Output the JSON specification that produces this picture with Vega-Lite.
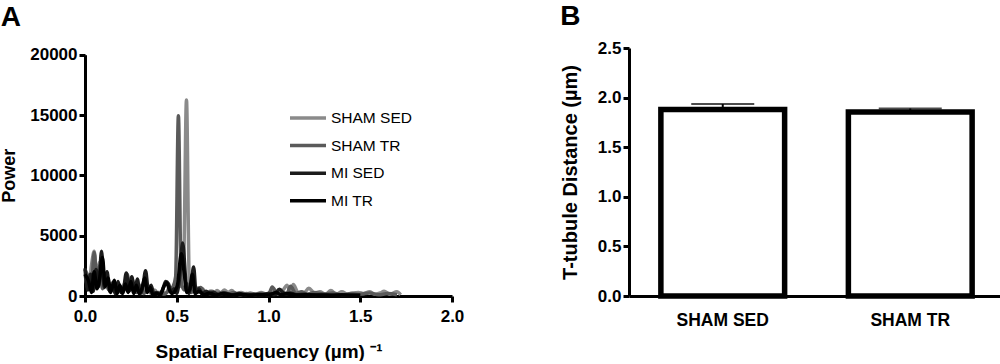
{
  "$schema": "https://vega.github.io/schema/vega-lite/v6.json",
  "background": "white",
  "padding": {"left": 0, "top": 3, "right": 0, "bottom": 0},
  "spacing": 96,
  "config": {
    "view": {"stroke": null},
    "font": "Liberation Sans",
    "axis": {"domainColor": "black", "domainWidth": 3, "tickColor": "black", "tickWidth": 3, "tickSize": 6, "labelFont": "Liberation Sans", "labelFontWeight": "bold", "labelFontSize": 17, "labelColor": "black", "titleFont": "Liberation Sans", "titleFontWeight": "bold", "titleFontSize": 19, "titleColor": "black", "grid": false, "labelPadding": 2, "labelFlush": false},
    "title": {"fontSize": 28, "fontWeight": "bold", "font": "Liberation Sans", "anchor": "start", "frame": "bounds", "color": "black"}
  },
  "datasets": {
    "spec": [
      {"s":"SHAM SED","f":0,"p":1800},{"s":"SHAM SED","f":0.02,"p":600},{"s":"SHAM SED","f":0.035,"p":2500},{"s":"SHAM SED","f":0.05,"p":3700},{"s":"SHAM SED","f":0.065,"p":1500},{"s":"SHAM SED","f":0.08,"p":2800},{"s":"SHAM SED","f":0.095,"p":900},{"s":"SHAM SED","f":0.11,"p":1500},{"s":"SHAM SED","f":0.125,"p":600},{"s":"SHAM SED","f":0.14,"p":1000},{"s":"SHAM SED","f":0.16,"p":400},{"s":"SHAM SED","f":0.18,"p":900},{"s":"SHAM SED","f":0.2,"p":300},{"s":"SHAM SED","f":0.22,"p":1200},{"s":"SHAM SED","f":0.24,"p":500},{"s":"SHAM SED","f":0.26,"p":1300},{"s":"SHAM SED","f":0.28,"p":400},{"s":"SHAM SED","f":0.3,"p":900},{"s":"SHAM SED","f":0.32,"p":300},{"s":"SHAM SED","f":0.34,"p":700},{"s":"SHAM SED","f":0.36,"p":200},{"s":"SHAM SED","f":0.38,"p":500},{"s":"SHAM SED","f":0.4,"p":150},{"s":"SHAM SED","f":0.42,"p":400},{"s":"SHAM SED","f":0.44,"p":200},{"s":"SHAM SED","f":0.46,"p":700},{"s":"SHAM SED","f":0.48,"p":500},{"s":"SHAM SED","f":0.5,"p":1200},{"s":"SHAM SED","f":0.52,"p":800},{"s":"SHAM SED","f":0.538,"p":3000},{"s":"SHAM SED","f":0.553,"p":16250},{"s":"SHAM SED","f":0.568,"p":1500},{"s":"SHAM SED","f":0.585,"p":400},{"s":"SHAM SED","f":0.6,"p":800},{"s":"SHAM SED","f":0.62,"p":300},{"s":"SHAM SED","f":0.64,"p":600},{"s":"SHAM SED","f":0.66,"p":200},{"s":"SHAM SED","f":0.68,"p":400},{"s":"SHAM SED","f":0.7,"p":200},{"s":"SHAM SED","f":0.72,"p":450},{"s":"SHAM SED","f":0.74,"p":250},{"s":"SHAM SED","f":0.76,"p":500},{"s":"SHAM SED","f":0.78,"p":300},{"s":"SHAM SED","f":0.8,"p":450},{"s":"SHAM SED","f":0.82,"p":200},{"s":"SHAM SED","f":0.85,"p":300},{"s":"SHAM SED","f":0.88,"p":150},{"s":"SHAM SED","f":0.9,"p":250},{"s":"SHAM SED","f":0.93,"p":150},{"s":"SHAM SED","f":0.96,"p":300},{"s":"SHAM SED","f":0.99,"p":150},{"s":"SHAM SED","f":1.02,"p":400},{"s":"SHAM SED","f":1.05,"p":200},{"s":"SHAM SED","f":1.08,"p":500},{"s":"SHAM SED","f":1.1,"p":900},{"s":"SHAM SED","f":1.12,"p":400},{"s":"SHAM SED","f":1.135,"p":950},{"s":"SHAM SED","f":1.16,"p":300},{"s":"SHAM SED","f":1.19,"p":200},{"s":"SHAM SED","f":1.22,"p":650},{"s":"SHAM SED","f":1.25,"p":250},{"s":"SHAM SED","f":1.28,"p":350},{"s":"SHAM SED","f":1.31,"p":150},{"s":"SHAM SED","f":1.34,"p":450},{"s":"SHAM SED","f":1.37,"p":150},{"s":"SHAM SED","f":1.4,"p":350},{"s":"SHAM SED","f":1.43,"p":150},{"s":"SHAM SED","f":1.46,"p":250},{"s":"SHAM SED","f":1.49,"p":300},{"s":"SHAM SED","f":1.52,"p":200},{"s":"SHAM SED","f":1.55,"p":350},{"s":"SHAM SED","f":1.58,"p":150},{"s":"SHAM SED","f":1.61,"p":250},{"s":"SHAM SED","f":1.63,"p":400},{"s":"SHAM SED","f":1.66,"p":150},{"s":"SHAM SED","f":1.7,"p":350},{"s":"SHAM SED","f":1.72,"p":100},
      {"s":"SHAM TR","f":0,"p":2200},{"s":"SHAM TR","f":0.02,"p":1500},{"s":"SHAM TR","f":0.035,"p":800},{"s":"SHAM TR","f":0.05,"p":3600},{"s":"SHAM TR","f":0.065,"p":1200},{"s":"SHAM TR","f":0.08,"p":2500},{"s":"SHAM TR","f":0.095,"p":600},{"s":"SHAM TR","f":0.11,"p":1800},{"s":"SHAM TR","f":0.13,"p":500},{"s":"SHAM TR","f":0.15,"p":1100},{"s":"SHAM TR","f":0.17,"p":300},{"s":"SHAM TR","f":0.19,"p":800},{"s":"SHAM TR","f":0.21,"p":400},{"s":"SHAM TR","f":0.23,"p":1800},{"s":"SHAM TR","f":0.245,"p":500},{"s":"SHAM TR","f":0.26,"p":1100},{"s":"SHAM TR","f":0.28,"p":300},{"s":"SHAM TR","f":0.3,"p":800},{"s":"SHAM TR","f":0.32,"p":200},{"s":"SHAM TR","f":0.34,"p":500},{"s":"SHAM TR","f":0.37,"p":200},{"s":"SHAM TR","f":0.4,"p":300},{"s":"SHAM TR","f":0.43,"p":150},{"s":"SHAM TR","f":0.46,"p":500},{"s":"SHAM TR","f":0.48,"p":800},{"s":"SHAM TR","f":0.494,"p":1600},{"s":"SHAM TR","f":0.509,"p":14950},{"s":"SHAM TR","f":0.524,"p":1200},{"s":"SHAM TR","f":0.54,"p":500},{"s":"SHAM TR","f":0.56,"p":1000},{"s":"SHAM TR","f":0.58,"p":300},{"s":"SHAM TR","f":0.6,"p":500},{"s":"SHAM TR","f":0.63,"p":700},{"s":"SHAM TR","f":0.66,"p":200},{"s":"SHAM TR","f":0.69,"p":400},{"s":"SHAM TR","f":0.72,"p":200},{"s":"SHAM TR","f":0.75,"p":300},{"s":"SHAM TR","f":0.78,"p":150},{"s":"SHAM TR","f":0.81,"p":300},{"s":"SHAM TR","f":0.84,"p":100},{"s":"SHAM TR","f":0.88,"p":200},{"s":"SHAM TR","f":0.92,"p":100},{"s":"SHAM TR","f":0.96,"p":200},{"s":"SHAM TR","f":1,"p":100},{"s":"SHAM TR","f":1.02,"p":750},{"s":"SHAM TR","f":1.05,"p":150},{"s":"SHAM TR","f":1.08,"p":300},{"s":"SHAM TR","f":1.1,"p":200},{"s":"SHAM TR","f":1.12,"p":800},{"s":"SHAM TR","f":1.15,"p":200},{"s":"SHAM TR","f":1.18,"p":350},{"s":"SHAM TR","f":1.21,"p":150},{"s":"SHAM TR","f":1.25,"p":300},{"s":"SHAM TR","f":1.3,"p":150},{"s":"SHAM TR","f":1.35,"p":250},{"s":"SHAM TR","f":1.4,"p":100},{"s":"SHAM TR","f":1.45,"p":200},{"s":"SHAM TR","f":1.5,"p":150},{"s":"SHAM TR","f":1.55,"p":250},{"s":"SHAM TR","f":1.6,"p":100},{"s":"SHAM TR","f":1.65,"p":200},{"s":"SHAM TR","f":1.7,"p":100},
      {"s":"MI SED","f":0,"p":2300},{"s":"MI SED","f":0.015,"p":500},{"s":"MI SED","f":0.03,"p":1800},{"s":"MI SED","f":0.045,"p":400},{"s":"MI SED","f":0.06,"p":2200},{"s":"MI SED","f":0.075,"p":800},{"s":"MI SED","f":0.09,"p":3700},{"s":"MI SED","f":0.105,"p":700},{"s":"MI SED","f":0.12,"p":2000},{"s":"MI SED","f":0.135,"p":400},{"s":"MI SED","f":0.15,"p":900},{"s":"MI SED","f":0.165,"p":200},{"s":"MI SED","f":0.18,"p":1200},{"s":"MI SED","f":0.195,"p":300},{"s":"MI SED","f":0.21,"p":600},{"s":"MI SED","f":0.225,"p":1900},{"s":"MI SED","f":0.24,"p":400},{"s":"MI SED","f":0.255,"p":1600},{"s":"MI SED","f":0.27,"p":300},{"s":"MI SED","f":0.285,"p":1400},{"s":"MI SED","f":0.3,"p":200},{"s":"MI SED","f":0.315,"p":700},{"s":"MI SED","f":0.33,"p":2100},{"s":"MI SED","f":0.345,"p":500},{"s":"MI SED","f":0.36,"p":900},{"s":"MI SED","f":0.375,"p":200},{"s":"MI SED","f":0.39,"p":300},{"s":"MI SED","f":0.41,"p":100},{"s":"MI SED","f":0.425,"p":600},{"s":"MI SED","f":0.44,"p":1200},{"s":"MI SED","f":0.455,"p":1000},{"s":"MI SED","f":0.47,"p":300},{"s":"MI SED","f":0.485,"p":600},{"s":"MI SED","f":0.5,"p":200},{"s":"MI SED","f":0.515,"p":1500},{"s":"MI SED","f":0.532,"p":4400},{"s":"MI SED","f":0.55,"p":1200},{"s":"MI SED","f":0.565,"p":200},{"s":"MI SED","f":0.58,"p":1200},{"s":"MI SED","f":0.592,"p":2400},{"s":"MI SED","f":0.605,"p":300},{"s":"MI SED","f":0.62,"p":600},{"s":"MI SED","f":0.64,"p":150},{"s":"MI SED","f":0.66,"p":400},{"s":"MI SED","f":0.68,"p":150},{"s":"MI SED","f":0.7,"p":300},{"s":"MI SED","f":0.73,"p":100},{"s":"MI SED","f":0.76,"p":250},{"s":"MI SED","f":0.8,"p":100},{"s":"MI SED","f":0.84,"p":200},{"s":"MI SED","f":0.88,"p":80},{"s":"MI SED","f":0.92,"p":150},{"s":"MI SED","f":0.96,"p":100},{"s":"MI SED","f":1,"p":200},{"s":"MI SED","f":1.03,"p":100},{"s":"MI SED","f":1.06,"p":550},{"s":"MI SED","f":1.09,"p":150},{"s":"MI SED","f":1.12,"p":250},{"s":"MI SED","f":1.15,"p":100},{"s":"MI SED","f":1.2,"p":150},{"s":"MI SED","f":1.25,"p":80},{"s":"MI SED","f":1.3,"p":120},{"s":"MI SED","f":1.35,"p":60},{"s":"MI SED","f":1.4,"p":100},{"s":"MI SED","f":1.45,"p":60},{"s":"MI SED","f":1.5,"p":80},
      {"s":"MI TR","f":0,"p":1800},{"s":"MI TR","f":0.02,"p":1200},{"s":"MI TR","f":0.035,"p":300},{"s":"MI TR","f":0.05,"p":2000},{"s":"MI TR","f":0.065,"p":600},{"s":"MI TR","f":0.08,"p":1500},{"s":"MI TR","f":0.095,"p":3200},{"s":"MI TR","f":0.11,"p":800},{"s":"MI TR","f":0.125,"p":1500},{"s":"MI TR","f":0.14,"p":300},{"s":"MI TR","f":0.16,"p":1300},{"s":"MI TR","f":0.175,"p":200},{"s":"MI TR","f":0.19,"p":900},{"s":"MI TR","f":0.205,"p":200},{"s":"MI TR","f":0.22,"p":1000},{"s":"MI TR","f":0.235,"p":300},{"s":"MI TR","f":0.25,"p":1200},{"s":"MI TR","f":0.265,"p":200},{"s":"MI TR","f":0.28,"p":900},{"s":"MI TR","f":0.295,"p":200},{"s":"MI TR","f":0.31,"p":600},{"s":"MI TR","f":0.325,"p":1500},{"s":"MI TR","f":0.34,"p":300},{"s":"MI TR","f":0.355,"p":700},{"s":"MI TR","f":0.37,"p":100},{"s":"MI TR","f":0.39,"p":200},{"s":"MI TR","f":0.41,"p":100},{"s":"MI TR","f":0.43,"p":800},{"s":"MI TR","f":0.445,"p":1100},{"s":"MI TR","f":0.46,"p":500},{"s":"MI TR","f":0.475,"p":200},{"s":"MI TR","f":0.49,"p":400},{"s":"MI TR","f":0.505,"p":1000},{"s":"MI TR","f":0.525,"p":3500},{"s":"MI TR","f":0.54,"p":2000},{"s":"MI TR","f":0.555,"p":300},{"s":"MI TR","f":0.57,"p":500},{"s":"MI TR","f":0.585,"p":1800},{"s":"MI TR","f":0.6,"p":200},{"s":"MI TR","f":0.62,"p":400},{"s":"MI TR","f":0.65,"p":100},{"s":"MI TR","f":0.68,"p":250},{"s":"MI TR","f":0.71,"p":80},{"s":"MI TR","f":0.75,"p":200},{"s":"MI TR","f":0.8,"p":80},{"s":"MI TR","f":0.85,"p":150},{"s":"MI TR","f":0.9,"p":60},{"s":"MI TR","f":0.95,"p":120},{"s":"MI TR","f":1,"p":80},{"s":"MI TR","f":1.04,"p":300},{"s":"MI TR","f":1.07,"p":100},{"s":"MI TR","f":1.1,"p":200},{"s":"MI TR","f":1.15,"p":80},{"s":"MI TR","f":1.2,"p":100},{"s":"MI TR","f":1.3,"p":60},{"s":"MI TR","f":1.4,"p":80},{"s":"MI TR","f":1.5,"p":50}
    ],
    "bars": [
      {"g": "SHAM SED", "m": 1.88, "hi": 1.935},
      {"g": "SHAM TR", "m": 1.855, "hi": 1.89}
    ]
  },
  "hconcat": [
    {
      "title": {"text": "A", "offset": 14},
      "width": 367,
      "height": 248,
      "data": {"name": "spec"},
      "encoding": {
        "x": {"field": "f", "type": "quantitative", "scale": {"domain": [0, 2], "nice": false}, "axis": {"values": [0, 0.5, 1, 1.5, 2], "format": ".1f", "title": "Spatial Frequency (µm) ⁻¹", "titlePadding": 18, "labelPadding": 6}},
        "y": {"field": "p", "type": "quantitative", "scale": {"domain": [0, 20000], "nice": false, "range": [248, 6.7]}, "axis": {"values": [0, 5000, 10000, 15000, 20000], "format": "d", "title": "Power", "titleFontSize": 18, "titlePadding": 11}},
        "color": {"field": "s", "type": "nominal", "scale": {"domain": ["SHAM SED", "SHAM TR", "MI SED", "MI TR"], "range": ["#8a8a8a", "#5a5a5a", "#1c1c1c", "#000000"]},
          "legend": {"orient": "none", "legendX": 212, "legendY": 59, "title": null, "symbolType": "M-2,0H2", "symbolSize": 324, "labelFontSize": 15.5, "labelFont": "Liberation Sans", "labelColor": "black", "rowPadding": 7.6, "labelOffset": 12}},
        "strokeWidth": {"field": "s", "type": "nominal", "scale": {"domain": ["SHAM SED", "SHAM TR", "MI SED", "MI TR"], "range": [3.5, 3.5, 4, 3]}}
      },
      "layer": [
        {"transform": [{"filter": "datum.s === 'SHAM SED'"}], "mark": {"type": "line", "interpolate": "monotone"}},
        {"transform": [{"filter": "datum.s === 'SHAM TR'"}], "mark": {"type": "line", "interpolate": "monotone"}},
        {"transform": [{"filter": "datum.s === 'MI SED'"}], "mark": {"type": "line", "interpolate": "monotone"}},
        {"transform": [{"filter": "datum.s === 'MI TR'"}], "mark": {"type": "line", "interpolate": "monotone"}}
      ]
    },
    {
      "title": {"text": "B", "offset": 8},
      "width": 375,
      "height": 248,
      "data": {"name": "bars"},
      "encoding": {
        "x": {"field": "g", "type": "nominal", "sort": null, "scale": {"paddingInner": 0.34, "paddingOuter": 0.17}, "axis": {"title": null, "ticks": false, "labelAngle": 0, "labelPadding": 15, "labelFontSize": 17.5}}
      },
      "layer": [
        {"mark": {"type": "bar", "fill": "white", "stroke": "black", "strokeWidth": 5.5}, "encoding": {"y": {"field": "m", "type": "quantitative", "scale": {"domain": [0, 2.5], "nice": false}, "axis": {"values": [0, 0.5, 1, 1.5, 2, 2.5], "format": ".1f", "title": "T-tubule Distance (µm)", "titlePadding": 17, "titleFontSize": 20}}}},
        {"mark": {"type": "rule", "strokeWidth": 2, "color": "black"}, "encoding": {"y": {"field": "m", "type": "quantitative", "title": "T-tubule Distance (µm)"}, "y2": {"field": "hi"}}},
        {"mark": {"type": "tick", "thickness": 2, "size": 63, "color": "black"}, "encoding": {"y": {"field": "hi", "type": "quantitative", "title": "T-tubule Distance (µm)"}}}
      ]
    }
  ]
}
